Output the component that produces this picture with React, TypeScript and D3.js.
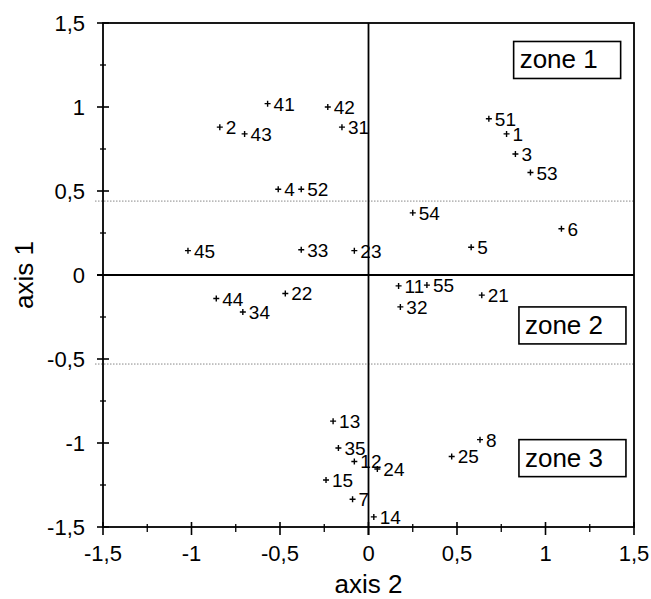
import React from "react";
import * as d3 from "d3";

// point ids and their coordinates (axis 2 = horizontal, axis 1 = vertical)
const pointIds = ["41", "42", "31", "2", "43", "4", "52", "45", "33", "23", "51", "1", "3", "53", "54", "6", "5", "44", "34", "22", "13", "35", "12", "15", "7", "24", "11", "55", "32", "21", "8", "25", "14"];
const axis2Values = [-0.57, -0.23, -0.15, -0.84, -0.7, -0.51, -0.38, -1.02, -0.38, -0.08, 0.68, 0.78, 0.83, 0.915, 0.25, 1.09, 0.58, -0.86, -0.71, -0.47, -0.2, -0.17, -0.08, -0.24, -0.09, 0.05, 0.17, 0.33, 0.18, 0.64, 0.63, 0.47, 0.03];
const axis1Values = [1.02, 1.0, 0.88, 0.88, 0.84, 0.51, 0.51, 0.145, 0.15, 0.145, 0.93, 0.84, 0.72, 0.61, 0.37, 0.275, 0.165, -0.14, -0.22, -0.11, -0.87, -1.03, -1.11, -1.22, -1.335, -1.155, -0.065, -0.06, -0.19, -0.12, -0.98, -1.08, -1.44];

const majorTicks = [-1.5, -1, -0.5, 0, 0.5, 1, 1.5];
const minorTicks = [-1.25, -0.75, -0.25, 0.25, 0.75, 1.25];
const tickLabels = ["-1,5", "-1", "-0,5", "0", "0,5", "1", "1,5"];

// dotted separators between zones (axis 1 values)
const zoneLines = [0.44, -0.53];
const zoneNames = ["zone 1", "zone 2", "zone 3"];
const zoneX = [0.82, 0.85, 0.85];
const zoneY = [1.39, -0.19, -0.98];

const width = 651;
const height = 599;
const margin = { top: 23, right: 17, bottom: 72, left: 103 };
const font = "'Liberation Sans', Arial, sans-serif";

export default function App() {
  const x = d3.scaleLinear().domain([-1.5, 1.5]).range([margin.left, width - margin.right]);
  const y = d3.scaleLinear().domain([-1.5, 1.5]).range([height - margin.bottom, margin.top]);
  const [x0, x1] = x.range();
  const [y0, y1] = y.range();

  return (
    <svg
      width={width}
      height={height}
      style={{ position: "absolute", left: 0, top: 0, background: "#fff" }}
      fontFamily={font}
    >
      {/* dotted zone separators */}
      {zoneLines.map((v, i) => (
        <line key={i} x1={x0 - 8} x2={x1} y1={y(v)} y2={y(v)} stroke="#888" strokeWidth={1} strokeDasharray="1.5,1.5" />
      ))}

      {/* frame */}
      <rect x={x0} y={y1} width={x1 - x0} height={y0 - y1} fill="none" stroke="#000" strokeWidth={1.8} />

      {/* zero axes */}
      <line x1={x0 - 6} x2={x1} y1={y(0)} y2={y(0)} stroke="#000" strokeWidth={1.8} />
      <line x1={x(0)} x2={x(0)} y1={y1} y2={y0 + 8} stroke="#000" strokeWidth={1.8} />

      {/* left axis ticks */}
      {majorTicks.map((t) => (
        <line key={"ly" + t} x1={x0 - 6} x2={x0 + 6} y1={y(t)} y2={y(t)} stroke="#000" strokeWidth={1.6} />
      ))}
      {minorTicks.map((t) => (
        <line key={"lm" + t} x1={x0 - 3} x2={x0 + 3} y1={y(t)} y2={y(t)} stroke="#000" strokeWidth={1.3} />
      ))}
      {majorTicks.map((t, i) => (
        <text key={"yl" + t} x={x0 - 18} y={y(t) + 8} fontSize={22} textAnchor="end" fill="#000">
          {tickLabels[i]}
        </text>
      ))}

      {/* bottom axis ticks */}
      {majorTicks.map((t) => (
        <line key={"bx" + t} x1={x(t)} x2={x(t)} y1={y0 - 5} y2={y0 + 8} stroke="#000" strokeWidth={1.6} />
      ))}
      {minorTicks.map((t) => (
        <line key={"bm" + t} x1={x(t)} x2={x(t)} y1={y0 - 3} y2={y0 + 5} stroke="#000" strokeWidth={1.3} />
      ))}
      {majorTicks.map((t, i) => (
        <text key={"xl" + t} x={x(t)} y={y0 + 34} fontSize={22} textAnchor="middle" fill="#000">
          {tickLabels[i]}
        </text>
      ))}

      {/* axis titles */}
      <text x={x(0)} y={height - 6} fontSize={26} textAnchor="middle" fill="#000">
        axis 2
      </text>
      <text transform={`translate(33,${y(0)}) rotate(-90)`} fontSize={26} textAnchor="middle" fill="#000">
        axis 1
      </text>

      {/* points */}
      {pointIds.map((id, i) => {
        const px = x(axis2Values[i]);
        const py = y(axis1Values[i]);
        return (
          <g key={id}>
            <path d={`M${px - 3},${py}H${px + 3}M${px},${py - 3}V${py + 3}`} stroke="#000" strokeWidth={1.4} />
            <text x={px + 6} y={py + 7} fontSize={19} fill="#000">
              {id}
            </text>
          </g>
        );
      })}

      {/* zone boxes */}
      {zoneNames.map((name, i) => {
        const bx = x(zoneX[i]);
        const by = y(zoneY[i]);
        return (
          <g key={name}>
            <rect x={bx} y={by} width={107} height={37} fill="#fff" stroke="#000" strokeWidth={1.6} />
            <text x={bx + 6} y={by + 27} fontSize={26} fill="#000">
              {name}
            </text>
          </g>
        );
      })}
    </svg>
  );
}
